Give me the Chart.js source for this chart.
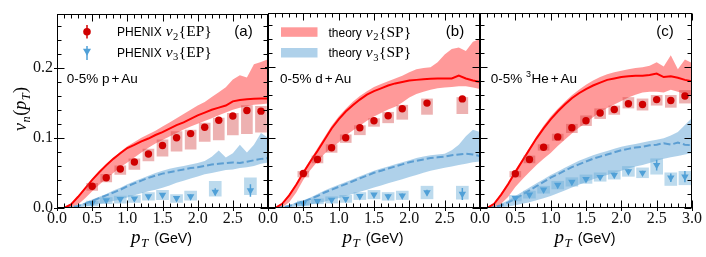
<!DOCTYPE html>
<html><head><meta charset="utf-8">
<script src="https://cdn.jsdelivr.net/npm/chart.js@4.4.0/dist/chart.umd.min.js"></script>
<style>
html,body{margin:0;padding:0;background:#fff;}
#wrap{position:relative;width:706px;height:257px;overflow:hidden;background:#fff;}
canvas{position:absolute;left:0;top:0;}
</style></head><body>
<div id="wrap">
<canvas id="ca" width="706" height="257"></canvas>
<canvas id="cb" width="706" height="257"></canvas>
<canvas id="cc" width="706" height="257"></canvas>
</div>
<script>
// ---------- DATA ----------
const PT = [0.1,0.2,0.3,0.4,0.5,0.6,0.7,0.8,0.9,1.0,1.1,1.2,1.3,1.4,1.5,1.6,1.7,1.8,1.9,2.0,2.1,2.2,2.3,2.4,2.5,2.6,2.7,2.8,2.9,3.0];
const X_TICKS_AB = [0,0.5,1.0,1.5,2.0,2.5];
const X_TICKS_C = [0,0.5,1.0,1.5,2.0,2.5,3.0];
const Y_TICKS = [0,0.1,0.2];

// (a) 0-5% p+Au theory
const A_V2_LINE = [0.000,0.005,0.016,0.028,0.040,0.051,0.061,0.070,0.078,0.0855,0.090,0.095,0.099,0.104,0.108,0.113,0.118,0.122,0.127,0.132,0.136,0.140,0.143,0.146,0.152,0.154,0.155,0.1555,0.156,0.156];
const A_V2_HI = [0.001,0.006,0.017,0.029,0.041,0.052,0.062,0.071,0.080,0.088,0.094,0.100,0.105,0.110,0.116,0.122,0.128,0.134,0.140,0.146,0.151,0.158,0.165,0.172,0.183,0.189,0.186,0.205,0.208,0.212];
const A_V2_LO = [0.000,0.001,0.005,0.014,0.024,0.033,0.042,0.050,0.058,0.065,0.072,0.079,0.086,0.092,0.097,0.102,0.107,0.112,0.116,0.120,0.124,0.128,0.132,0.136,0.140,0.143,0.145,0.147,0.148,0.149];
const A_V3_LINE = [0.000,0.001,0.003,0.006,0.010,0.014,0.018,0.022,0.026,0.031,0.035,0.039,0.043,0.046,0.049,0.051,0.053,0.055,0.057,0.058,0.060,0.062,0.063,0.064,0.065,0.064,0.066,0.068,0.070,0.071];
const A_V3_HI = [0.001,0.002,0.004,0.008,0.012,0.016,0.020,0.025,0.029,0.034,0.038,0.042,0.046,0.050,0.053,0.056,0.058,0.060,0.062,0.064,0.067,0.073,0.082,0.072,0.078,0.090,0.079,0.090,0.107,0.100];
const A_V3_LO = [0.000,0.000,0.001,0.002,0.004,0.006,0.008,0.010,0.012,0.015,0.018,0.021,0.024,0.026,0.029,0.032,0.036,0.039,0.042,0.045,0.048,0.050,0.052,0.054,0.055,0.057,0.058,0.060,0.063,0.065];
// (a) PHENIX
const A_V2_X = [0.5,0.7,0.9,1.1,1.3,1.5,1.7,1.9,2.1,2.3,2.5,2.7,2.9];
const A_V2 = [0.031,0.043,0.0555,0.0655,0.077,0.089,0.100,0.106,0.115,0.125,0.131,0.139,0.138];
const A_V2_ERR = [0.002,0.002,0.002,0.002,0.002,0.002,0.002,0.002,0.003,0.003,0.003,0.004,0.004];
const A_V2_SYS_LO = [0.025,0.037,0.048,0.055,0.067,0.074,0.081,0.084,0.095,0.097,0.104,0.106,0.108];
const A_V2_SYS_HI = [0.035,0.048,0.060,0.070,0.084,0.097,0.109,0.111,0.121,0.128,0.135,0.146,0.145];
const A_V3_X = [0.5,0.7,0.9,1.1,1.3,1.5,1.7,1.9,2.25,2.75];
const A_V3 = [0.007,0.011,0.0125,0.0135,0.0165,0.0185,0.014,0.0165,0.023,0.025];
const A_V3_ERR = [0.002,0.002,0.002,0.002,0.002,0.003,0.003,0.003,0.005,0.009];
const A_V3_SYS_LO = [0.003,0.006,0.007,0.008,0.011,0.012,0.008,0.011,0.017,0.019];
const A_V3_SYS_HI = [0.010,0.015,0.017,0.018,0.022,0.025,0.019,0.024,0.038,0.043];

// (b) 0-5% d+Au theory
const B_V2_LINE = [0.000,0.006,0.018,0.033,0.050,0.066,0.081,0.097,0.113,0.126,0.137,0.146,0.154,0.161,0.166,0.170,0.174,0.177,0.179,0.181,0.182,0.183,0.1835,0.184,0.184,0.184,0.188,0.184,0.181,0.179];
const B_V2_HI = [0.001,0.007,0.020,0.035,0.053,0.069,0.085,0.101,0.117,0.130,0.141,0.151,0.159,0.166,0.172,0.176,0.180,0.184,0.188,0.193,0.197,0.199,0.200,0.207,0.218,0.226,0.228,0.223,0.236,0.240];
const B_V2_LO = [0.000,0.001,0.008,0.022,0.040,0.054,0.066,0.077,0.086,0.093,0.103,0.110,0.117,0.124,0.130,0.135,0.140,0.144,0.150,0.157,0.162,0.165,0.168,0.170,0.171,0.172,0.173,0.173,0.171,0.169];
const B_V3_LINE = [0.000,0.001,0.003,0.006,0.009,0.013,0.017,0.022,0.026,0.030,0.034,0.038,0.042,0.046,0.050,0.053,0.056,0.059,0.062,0.065,0.067,0.069,0.071,0.072,0.073,0.075,0.076,0.077,0.076,0.074];
const B_V3_HI = [0.001,0.002,0.004,0.008,0.011,0.015,0.020,0.025,0.029,0.033,0.037,0.041,0.045,0.049,0.053,0.056,0.059,0.062,0.065,0.068,0.071,0.073,0.075,0.076,0.077,0.082,0.090,0.102,0.111,0.108];
const B_V3_LO = [0.000,0.000,0.001,0.002,0.003,0.005,0.007,0.009,0.012,0.014,0.017,0.020,0.023,0.026,0.029,0.032,0.035,0.038,0.041,0.044,0.047,0.050,0.053,0.055,0.057,0.059,0.061,0.063,0.065,0.066];
// (b) PHENIX
const B_V2_X = [0.5,0.7,0.9,1.1,1.3,1.5,1.7,1.9,2.25,2.75];
const B_V2 = [0.049,0.069,0.0855,0.0997,0.114,0.124,0.131,0.141,0.149,0.155];
const B_V2_ERR = [0.002,0.002,0.002,0.002,0.002,0.002,0.003,0.003,0.003,0.004];
const B_V2_SYS_LO = [0.044,0.064,0.079,0.093,0.104,0.116,0.121,0.126,0.133,0.134];
const B_V2_SYS_HI = [0.052,0.074,0.090,0.104,0.117,0.127,0.136,0.146,0.155,0.157];
const B_V3_X = [0.5,0.7,0.9,1.1,1.3,1.5,1.7,1.9,2.25,2.75];
const B_V3 = [0.0064,0.0097,0.0115,0.013,0.0168,0.019,0.0165,0.0175,0.022,0.020];
const B_V3_ERR = [0.002,0.002,0.002,0.002,0.002,0.002,0.003,0.003,0.004,0.0085];
const B_V3_SYS_LO = [0.003,0.006,0.007,0.008,0.012,0.013,0.011,0.012,0.013,0.0125];
const B_V3_SYS_HI = [0.010,0.013,0.016,0.018,0.022,0.025,0.022,0.024,0.031,0.031];

// (c) 0-5% 3He+Au theory
const C_V2_LINE = [0.000,0.006,0.019,0.034,0.051,0.067,0.083,0.099,0.113,0.126,0.137,0.147,0.156,0.163,0.169,0.174,0.178,0.182,0.184,0.186,0.187,0.188,0.188,0.189,0.191,0.186,0.187,0.185,0.182,0.180];
const C_V2_HI = [0.001,0.007,0.021,0.037,0.054,0.070,0.086,0.102,0.117,0.130,0.141,0.151,0.160,0.168,0.175,0.181,0.186,0.190,0.193,0.195,0.197,0.199,0.200,0.202,0.207,0.201,0.217,0.197,0.211,0.206];
const C_V2_LO = [0.000,0.001,0.006,0.016,0.030,0.041,0.051,0.061,0.070,0.078,0.088,0.097,0.106,0.114,0.121,0.129,0.136,0.142,0.147,0.152,0.157,0.161,0.164,0.165,0.165,0.164,0.168,0.165,0.162,0.160];
const C_V3_LINE = [0.000,0.001,0.004,0.008,0.013,0.019,0.025,0.031,0.037,0.043,0.048,0.053,0.058,0.062,0.066,0.070,0.073,0.076,0.079,0.082,0.084,0.086,0.087,0.089,0.090,0.092,0.090,0.093,0.090,0.089];
const C_V3_HI = [0.001,0.002,0.006,0.011,0.017,0.023,0.029,0.035,0.041,0.047,0.052,0.057,0.062,0.067,0.071,0.075,0.078,0.081,0.084,0.087,0.089,0.091,0.093,0.095,0.097,0.099,0.103,0.108,0.118,0.128];
const C_V3_LO = [0.000,0.000,0.001,0.002,0.004,0.006,0.008,0.011,0.014,0.017,0.021,0.025,0.029,0.033,0.037,0.041,0.044,0.047,0.050,0.053,0.056,0.059,0.061,0.064,0.067,0.070,0.072,0.074,0.076,0.078];
// (c) PHENIX
const C_V2_X = [0.5,0.7,0.9,1.1,1.3,1.5,1.7,1.9,2.1,2.3,2.5,2.7,2.9];
const C_V2 = [0.0486,0.069,0.0864,0.101,0.114,0.124,0.135,0.140,0.148,0.147,0.154,0.1527,0.159];
const C_V2_ERR = [0.002,0.002,0.002,0.002,0.002,0.002,0.002,0.002,0.003,0.003,0.003,0.003,0.004];
const C_V2_SYS_LO = [0.044,0.064,0.082,0.096,0.107,0.117,0.127,0.133,0.142,0.139,0.146,0.143,0.149];
const C_V2_SYS_HI = [0.052,0.074,0.090,0.105,0.119,0.131,0.141,0.145,0.157,0.155,0.160,0.160,0.167];
const C_V3_X = [0.5,0.7,0.9,1.1,1.3,1.5,1.7,1.9,2.1,2.3,2.5,2.7,2.9];
const C_V3 = [0.014,0.019,0.026,0.0327,0.037,0.041,0.044,0.047,0.052,0.050,0.061,0.043,0.0445];
const C_V3_ERR = [0.002,0.002,0.002,0.002,0.002,0.002,0.002,0.003,0.003,0.003,0.0076,0.006,0.008];
const C_V3_SYS_LO = [0.010,0.014,0.021,0.027,0.031,0.035,0.038,0.041,0.045,0.043,0.048,0.032,0.033];
const C_V3_SYS_HI = [0.018,0.024,0.031,0.038,0.043,0.047,0.050,0.053,0.059,0.057,0.070,0.050,0.052];

// ---------- STYLE ----------
const SANS = '"Liberation Sans", Arial, sans-serif';
const SERIF = '"Liberation Serif", "Times New Roman", serif';
const RED_LINE = '#ff0000', RED_BAND = 'rgba(255,0,0,0.40)', RED_PT = 'rgb(208,0,0)', RED_BOX = 'rgba(210,60,60,0.40)';
const BLUE_LINE = 'rgb(92,158,210)', BLUE_BAND = 'rgba(65,145,205,0.42)', BLUE_PT = 'rgb(80,160,215)', BLUE_BOX = 'rgba(107,174,214,0.45)';
const TOP = 13, BOTTOM = 208, YMAX = 0.277;

const theoryXY = a => PT.map((x, i) => ({x, y: a[i]}));
const pts = (xs, ys) => xs.map((x, i) => ({x, y: ys[i]}));
const boxes = (xs, lo, hi) => xs.map((x, i) => ({x, y: [lo[i], hi[i]]}));

function runs(ctx, x, y, parts, draw = true) {
  let cx = x;
  for (const p of parts) {
    ctx.font = p[1];
    if (draw) ctx.fillText(p[0], cx, y + (p[2] || 0));
    cx += ctx.measureText(p[0]).width + (p[3] || 0);
  }
  return cx - x;
}

const framePlugin = {
  id: 'frame',
  afterDraw(chart) {
    const {ctx, chartArea: a} = chart;
    const xs = chart.scales.x, ys = chart.scales.y;
    ctx.save();
    ctx.strokeStyle = '#000';
    ctx.lineWidth = 1;
    const L = Math.round(a.left) + 0.5, R = Math.round(a.right) - 0.5, T = Math.round(a.top) + 0.5, B = Math.round(a.bottom) - 0.5;
    ctx.strokeRect(L, T, R - L, B - T);
    ctx.beginPath();
    for (let i = 0; i <= 30; i++) {
      const px = Math.round(xs.getPixelForValue(i / 10)) + 0.5;
      const major = i % 5 === 0;
      const len = major ? 7 : 4;
      ctx.moveTo(px, B + (major ? 3.5 : 0)); ctx.lineTo(px, B - len);
      ctx.moveTo(px, T); ctx.lineTo(px, T + len);
    }
    for (let i = 0; i <= 13; i++) {
      const py = Math.round(ys.getPixelForValue(i * 0.02)) + 0.5;
      const major = i % 5 === 0;
      const len = major ? 7 : 4;
      ctx.moveTo(L - (major ? 3.5 : 0), py); ctx.lineTo(L + len, py);
      ctx.moveTo(R, py); ctx.lineTo(R - len, py);
    }
    ctx.stroke();
    ctx.restore();
  }
};

const errPlugin = {
  id: 'errbars',
  beforeDatasetDraw(chart, args) {
    const ds = chart.data.datasets[args.index];
    if (!ds.errors) return;
    const {ctx, chartArea: a} = chart;
    const xs = chart.scales.x, ys = chart.scales.y;
    ctx.save();
    ctx.beginPath(); ctx.rect(a.left, a.top, a.right - a.left, a.bottom - a.top); ctx.clip();
    ctx.strokeStyle = ds.pointBackgroundColor; ctx.lineWidth = 1.5;
    ctx.beginPath();
    ds.data.forEach((d, i) => {
      const px = xs.getPixelForValue(d.x);
      ctx.moveTo(px, ys.getPixelForValue(d.y - ds.errors[i]));
      ctx.lineTo(px, ys.getPixelForValue(d.y + ds.errors[i]));
    });
    ctx.stroke();
    ctx.restore();
  }
};

function drawCommonTexts(ctx, P) {
  ctx.fillStyle = '#000';
  ctx.textBaseline = 'alphabetic';
  ctx.font = `15px ${SANS}`;
  ctx.textAlign = 'center';
  ctx.fillText(P.letter, P.letterX, 36);
  ctx.textAlign = 'left';
  runs(ctx, P.sysX, 82.5, P.sysParts);
  const xp = [['p', `italic 19px ${SERIF}`, 0, 0.5], ['T', `italic 13px ${SERIF}`, 4, 6], ['(GeV)', `14.2px ${SANS}`]];
  const w = runs(ctx, 0, 0, xp, false);
  runs(ctx, (P.left + P.right) / 2 - 1 - w / 2, 242.5, xp);
}

const textPlugin = {
  id: 'texts',
  afterDraw(chart) {
    const P = chart.options.plugins.texts.panel;
    const ctx = chart.ctx;
    ctx.save();
    drawCommonTexts(ctx, P);
    const math = `15.5px ${SERIF}`, mathI = `italic 15.5px ${SERIF}`, sub = `10.5px ${SERIF}`;
    if (P.key === 'a') {
      ctx.fillStyle = RED_PT; ctx.strokeStyle = RED_PT; ctx.lineWidth = 1.5;
      ctx.beginPath(); ctx.moveTo(87, 25); ctx.lineTo(87, 38.5); ctx.stroke();
      ctx.beginPath(); ctx.arc(87, 31.7, 3.8, 0, Math.PI * 2); ctx.fill();
      ctx.fillStyle = BLUE_PT; ctx.strokeStyle = BLUE_PT;
      ctx.beginPath(); ctx.moveTo(87, 46); ctx.lineTo(87, 60); ctx.stroke();
      ctx.beginPath(); ctx.moveTo(83, 48.8); ctx.lineTo(91, 48.8); ctx.lineTo(87, 55.8); ctx.closePath(); ctx.fill();
      ctx.fillStyle = '#000';
      runs(ctx, 117, 36, [['PHENIX', `12px ${SANS}`, 0, 4], ['v', mathI, 0, 0.5], ['2', sub, 3.5, 0.5], ['{EP}', math]]);
      runs(ctx, 117, 56.7, [['PHENIX', `12px ${SANS}`, 0, 4], ['v', mathI, 0, 0.5], ['3', sub, 3.5, 0.5], ['{EP}', math]]);
      const yp = [['v', `italic 18px ${SERIF}`, 0, 0.5], ['n', `italic 12.5px ${SERIF}`, 4, 0.5], ['(', `18px ${SERIF}`], ['p', `italic 18px ${SERIF}`, 0, 0.5], ['T', `italic 12.5px ${SERIF}`, 4, 0.5], [')', `18px ${SERIF}`]];
      const w = runs(ctx, 0, 0, yp, false);
      ctx.translate(25.5, 109);
      ctx.rotate(-Math.PI / 2);
      runs(ctx, -w / 2, 0, yp);
    } else if (P.key === 'b') {
      ctx.fillStyle = RED_BAND; ctx.fillRect(281, 27.3, 36.5, 9.5);
      ctx.fillStyle = BLUE_BAND; ctx.fillRect(281, 48, 36.5, 9.5);
      ctx.fillStyle = '#000';
      runs(ctx, 328.5, 36.5, [['theory', `12px ${SANS}`, 0, 4], ['v', mathI, 0, 0.5], ['2', sub, 3.5, 0.5], ['{SP}', math]]);
      runs(ctx, 328.5, 57, [['theory', `12px ${SANS}`, 0, 4], ['v', mathI, 0, 0.5], ['3', sub, 3.5, 0.5], ['{SP}', math]]);
    }
    ctx.restore();
  }
};

const PANELS = [
  {key: 'a', canvas: 'ca', left: 57, right: 268, yLabels: true, xt: X_TICKS_AB, letter: '(a)', letterX: 243.5, sysX: 66.7,
   sysParts: [['0-5% p', `13.5px ${SANS}`, 0, 2], ['+', `13.5px ${SANS}`, 0, 2], ['Au', `13.5px ${SANS}`]],
   t: [A_V2_LO, A_V2_HI, A_V3_LO, A_V3_HI, A_V2_LINE, A_V3_LINE],
   e: [A_V2_X, A_V2, A_V2_ERR, A_V2_SYS_LO, A_V2_SYS_HI, A_V3_X, A_V3, A_V3_ERR, A_V3_SYS_LO, A_V3_SYS_HI]},
  {key: 'b', canvas: 'cb', left: 268, right: 480, yLabels: false, xt: X_TICKS_AB, letter: '(b)', letterX: 455, sysX: 280,
   sysParts: [['0-5% d', `13.5px ${SANS}`, 0, 2], ['+', `13.5px ${SANS}`, 0, 2], ['Au', `13.5px ${SANS}`]],
   t: [B_V2_LO, B_V2_HI, B_V3_LO, B_V3_HI, B_V2_LINE, B_V3_LINE],
   e: [B_V2_X, B_V2, B_V2_ERR, B_V2_SYS_LO, B_V2_SYS_HI, B_V3_X, B_V3, B_V3_ERR, B_V3_SYS_LO, B_V3_SYS_HI]},
  {key: 'c', canvas: 'cc', left: 480, right: 692, yLabels: false, xt: X_TICKS_C, letter: '(c)', letterX: 665, sysX: 490.7,
   sysParts: [['0-5% ', `13.5px ${SANS}`], ['3', `9px ${SANS}`, -5.5, 0.5], ['He', `13.5px ${SANS}`, 0, 2], ['+', `13.5px ${SANS}`, 0, 2], ['Au', `13.5px ${SANS}`]],
   t: [C_V2_LO, C_V2_HI, C_V3_LO, C_V3_HI, C_V2_LINE, C_V3_LINE],
   e: [C_V2_X, C_V2, C_V2_ERR, C_V2_SYS_LO, C_V2_SYS_HI, C_V3_X, C_V3, C_V3_ERR, C_V3_SYS_LO, C_V3_SYS_HI]}
];

const NONE = 'rgba(0,0,0,0)';
PANELS.forEach(P => {
  const [v2lo, v2hi, v3lo, v3hi, v2l, v3l] = P.t;
  const [v2x, v2, v2e, v2slo, v2shi, v3x, v3, v3e, v3slo, v3shi] = P.e;
  const datasets = [
    {type: 'line', data: theoryXY(v2lo), borderColor: NONE, borderWidth: 0, pointRadius: 0, fill: false, order: 3},
    {type: 'line', data: theoryXY(v2hi), borderColor: NONE, borderWidth: 0, pointRadius: 0, fill: {target: 0}, backgroundColor: RED_BAND, order: 3},
    {type: 'line', data: theoryXY(v3lo), borderColor: NONE, borderWidth: 0, pointRadius: 0, fill: false, order: 3},
    {type: 'line', data: theoryXY(v3hi), borderColor: NONE, borderWidth: 0, pointRadius: 0, fill: {target: 2}, backgroundColor: BLUE_BAND, order: 3},
    {type: 'line', data: theoryXY(v2l), borderColor: RED_LINE, borderWidth: 2, pointRadius: 0, fill: false, order: 2},
    {type: 'line', data: theoryXY(v3l), borderColor: BLUE_LINE, borderWidth: 2, borderDash: [7, 3], pointRadius: 0, fill: false, order: 2},
    {type: 'bar', data: boxes(v2x, v2slo, v2shi), backgroundColor: RED_BOX, borderWidth: 0, barThickness: 11, grouped: false, order: 1},
    {type: 'bar', data: boxes(v3x, v3slo, v3shi), backgroundColor: BLUE_BOX, borderWidth: 0, barThickness: 12, grouped: false, order: 1},
    {type: 'line', data: pts(v2x, v2), showLine: false, pointStyle: 'circle', pointRadius: 3.7, pointBackgroundColor: RED_PT, pointBorderWidth: 0, pointBorderColor: RED_PT, errors: v2e, order: 0},
    {type: 'line', data: pts(v3x, v3), showLine: false, pointStyle: 'triangle', pointRotation: 180, pointRadius: 4.3, pointBackgroundColor: BLUE_PT, pointBorderWidth: 0, pointBorderColor: BLUE_PT, errors: v3e, order: 0}
  ];
  new Chart(document.getElementById(P.canvas), {
    type: 'line',
    data: {datasets},
    options: {
      responsive: false, animation: false, devicePixelRatio: 1,
      layout: {padding: {left: P.yLabels ? 0 : P.left, right: 706 - P.right, top: TOP, bottom: 257 - BOTTOM - 30}},
      plugins: {legend: {display: false}, tooltip: {enabled: false}, texts: {panel: P}},
      scales: {
        x: {type: 'linear', min: 0, max: 3, offset: false,
            grid: {display: false, drawTicks: false}, border: {display: false},
            afterBuildTicks: s => { s.ticks = P.xt.map(v => ({value: v})); },
            afterFit: s => { s.height = 30; },
            ticks: {autoSkip: false, maxRotation: 0, padding: 1, color: '#111', font: {family: SERIF, size: 16},
                    callback: v => Number(v).toFixed(1)}},
        y: {type: 'linear', min: 0, max: YMAX, display: P.yLabels,
            grid: {display: false, drawTicks: false}, border: {display: false},
            afterBuildTicks: s => { s.ticks = Y_TICKS.map(v => ({value: v})); },
            afterFit: s => { s.width = P.yLabels ? 57 : 0; },
            ticks: {padding: 4, color: '#111', font: {family: SERIF, size: 16},
                    callback: v => Number(v).toFixed(1)}}
      }
    },
    plugins: [errPlugin, framePlugin, textPlugin]
  });
});
</script>
</body></html>
